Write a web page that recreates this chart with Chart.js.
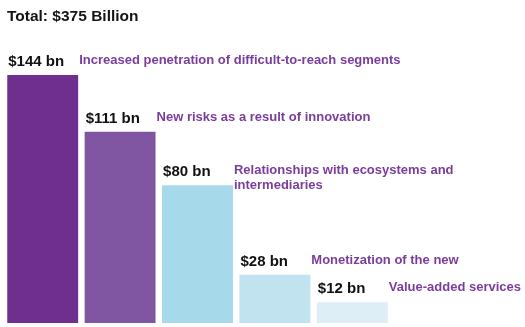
<!DOCTYPE html>
<html>
<head>
<meta charset="utf-8">
<script src="https://cdn.jsdelivr.net/npm/chart.js@4/dist/chart.umd.min.js"></script>
<style>
  html, body { margin: 0; padding: 0; background: #ffffff; }
  #wrap { width: 525px; height: 327px; position: relative; }
</style>
</head>
<body>
<div id="wrap"><canvas id="chart" width="525" height="327"></canvas></div>
<script>
// Revenue pools, in billions of dollars
const chartTitle = 'Total: $375 Billion';
const categories = [
  'Increased penetration of difficult-to-reach segments',
  'New risks as a result of innovation',
  ['Relationships with ecosystems and', 'intermediaries'],
  'Monetization of the new',
  'Value-added services'
];
const values = [144, 111, 80, 28, 12];
const valueLabels = ['$144 bn', '$111 bn', '$80 bn', '$28 bn', '$12 bn'];
const barColors = ['#6f2f8f', '#8056a2', '#a6d9ea', '#c1e3ef', '#deeef6'];

const FONT = "'Liberation Sans', Arial, sans-serif";

const labelPlugin = {
  id: 'barLabels',
  afterDatasetsDraw(chart) {
    const ctx = chart.ctx;
    const meta = chart.getDatasetMeta(0);
    ctx.save();
    // title
    ctx.fillStyle = '#141414';
    ctx.font = 'bold 15.5px ' + FONT;
    ctx.textAlign = 'left';
    ctx.textBaseline = 'alphabetic';
    ctx.fillText(chartTitle, 7, 21);

    meta.data.forEach((bar, i) => {
      const left = bar.x - bar.width / 2;
      const right = bar.x + bar.width / 2;
      // value label above the bar
      ctx.fillStyle = '#111111';
      ctx.font = 'bold 15px ' + FONT;
      ctx.fillText(valueLabels[i], left + 1, bar.y - 9);
      // category label to the right
      ctx.fillStyle = '#7a3d9c';
      ctx.font = 'bold 13px ' + FONT;
      const lines = Array.isArray(categories[i]) ? categories[i] : [categories[i]];
      lines.forEach((line, j) => {
        ctx.fillText(line, right + 1, bar.y - 11 + j * 15);
      });
    });
    ctx.restore();
  }
};

new Chart(document.getElementById('chart'), {
  type: 'bar',
  data: {
    labels: categories,
    datasets: [{
      data: values,
      backgroundColor: barColors,
      borderWidth: 0,
      categoryPercentage: 1,
      barPercentage: 0.916
    }]
  },
  options: {
    responsive: false,
    animation: false,
    layout: { padding: { left: 4, right: 134, top: 75, bottom: 4 } },
    plugins: {
      legend: { display: false },
      tooltip: { enabled: false },
      title: { display: false }
    },
    scales: {
      x: { display: false },
      y: { display: false, min: 0, max: 144 }
    }
  },
  plugins: [labelPlugin]
});
</script>
</body>
</html>
